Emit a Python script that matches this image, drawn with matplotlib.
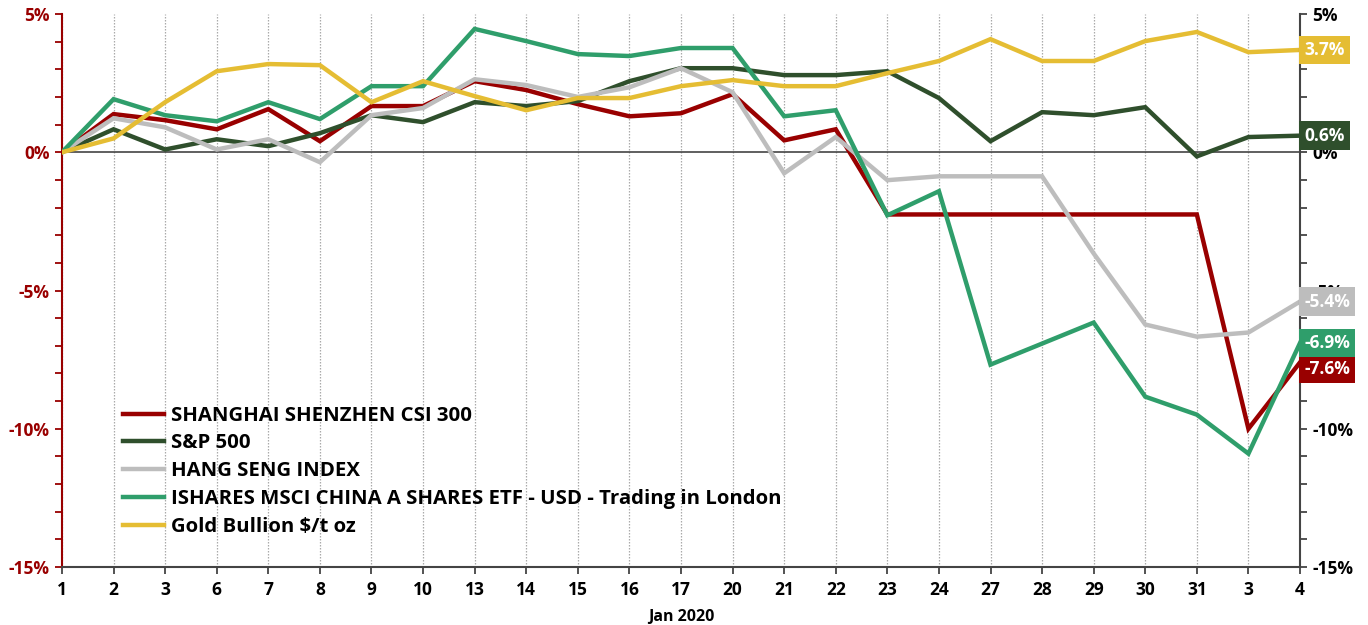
import matplotlib
matplotlib.use("Agg")
import matplotlib.pyplot as plt
from matplotlib.ticker import MultipleLocator, FuncFormatter

plt.rcParams['font.family'] = ['Open Sans', 'DejaVu Sans']
plt.rcParams['font.weight'] = 'bold'

# trading days, Jan 2020 -> 4 Feb
days = ['1', '2', '3', '6', '7', '8', '9', '10', '13', '14', '15', '16', '17',
        '20', '21', '22', '23', '24', '27', '28', '29', '30', '31', '3', '4']

csi300 = [0, 1.38, 1.16, 0.83, 1.56, 0.40, 1.67, 1.67, 2.57, 2.25, 1.74, 1.30, 1.41,
          2.10, 0.43, 0.83, -2.25, -2.25, -2.25, -2.25, -2.25, -2.25, -2.25, -10.0, -7.6]
sp500 = [0, 0.83, 0.10, 0.47, 0.22, 0.69, 1.34, 1.09, 1.81, 1.67, 1.85, 2.57, 3.04,
         3.04, 2.79, 2.79, 2.93, 1.96, 0.40, 1.45, 1.34, 1.63, -0.15, 0.55, 0.6]
hang_seng = [0, 1.23, 0.90, 0.10, 0.47, -0.36, 1.34, 1.60, 2.64, 2.43, 2.00, 2.35, 3.04,
             2.17, -0.76, 0.55, -1.01, -0.87, -0.87, -0.87, -3.66, -6.23, -6.67, -6.52, -5.4]
ishares = [0, 1.92, 1.34, 1.12, 1.81, 1.20, 2.39, 2.39, 4.46, 4.02, 3.55, 3.48, 3.77,
           3.77, 1.30, 1.52, -2.28, -1.41, -7.68, -6.92, -6.16, -8.84, -9.49, -10.9, -6.9]
gold = [0, 0.50, 1.81, 2.93, 3.19, 3.15, 1.81, 2.57, 2.03, 1.52, 1.96, 1.96, 2.39,
        2.61, 2.39, 2.39, 2.86, 3.30, 4.09, 3.30, 3.30, 4.02, 4.35, 3.62, 3.7]

names = ['SHANGHAI SHENZHEN CSI 300', 'S&P 500', 'HANG SENG INDEX',
         'ISHARES MSCI CHINA A SHARES ETF - USD - Trading in London', 'Gold Bullion $/t oz']
series = [csi300, sp500, hang_seng, ishares, gold]
colors = ['#990000', '#2f4f2c', '#bdbdbd', '#2f9e6b', '#e5bd33']
label_shift = [-0.23, 0, 0, 0, 0]

fig = plt.figure(figsize=(13.68, 6.25), dpi=100)
ax = fig.add_axes([0.0453, 0.0928, 0.9050, 0.8848])
x = list(range(len(days)))

for xi in x:
    ax.axvline(xi, color='#aaaaaa', lw=0.9, ls=(0, (1.2, 1.2)), zorder=0)
ax.axhline(0, color='#444444', lw=1.2, zorder=1)

lines = []
for s, c, n in zip(series, colors, names):
    ln, = ax.plot(x, s, color=c, lw=3.2, label=n, solid_joinstyle='miter', zorder=3)
    lines.append(ln)

ax.set_xlim(0, len(days) - 1)
ax.set_ylim(-15, 5)
ax.set_xticks(x)
ax.set_xticklabels(days, fontsize=12.5, fontweight='bold')
ax.yaxis.set_major_locator(MultipleLocator(5))
ax.yaxis.set_minor_locator(MultipleLocator(1))
pct = FuncFormatter(lambda v, p: '%d%%' % round(v))
ax.yaxis.set_major_formatter(pct)
ax.tick_params(axis='y', which='both', colors='#990000', length=5, width=1.3)
ax.tick_params(axis='y', labelsize=12.5, pad=4)
ax.tick_params(axis='x', length=5, width=1.3, color='#444444', pad=5)
for lab in ax.get_yticklabels():
    lab.set_fontweight('bold')
ax.spines['left'].set_color('#990000')
ax.spines['left'].set_linewidth(1.5)
ax.spines['bottom'].set_color('#444444')
ax.spines['bottom'].set_linewidth(1.5)
ax.spines['top'].set_visible(False)
ax.spines['right'].set_visible(False)
ax.set_xlabel('Jan 2020', fontsize=11.5, fontweight='bold', labelpad=7)

ax2 = ax.twinx()
ax2.set_ylim(-15, 5)
ax2.yaxis.set_major_locator(MultipleLocator(5))
ax2.yaxis.set_minor_locator(MultipleLocator(1))
ax2.yaxis.set_major_formatter(pct)
ax2.tick_params(axis='y', which='both', colors='#444444', length=5, width=1.3)
ax2.tick_params(axis='y', labelsize=12.5, labelcolor='black', pad=4)
for lab in ax2.get_yticklabels():
    lab.set_fontweight('bold')
for sp in ['left', 'top', 'bottom']:
    ax2.spines[sp].set_visible(False)
ax2.spines['right'].set_color('#444444')
ax2.spines['right'].set_linewidth(1.5)

# end value boxes
for s, c, dy in zip(series, colors, label_shift):
    ax2.annotate('%.1f%%' % s[-1], xy=(1.0, s[-1] + dy), xycoords=('axes fraction', 'data'),
                 xytext=(3, 0), textcoords='offset points', ha='left', va='center',
                 color='white', fontsize=12.5, fontweight='bold', zorder=10,
                 bbox=dict(boxstyle='square,pad=0.3', fc=c, ec='none'))

leg = ax.legend(handles=lines, loc='lower left', bbox_to_anchor=(0.043, 0.04),
                frameon=False, fontsize=14.7, handlelength=2.0, handletextpad=0.35,
                labelspacing=0.38, borderaxespad=0)

fig.savefig('out.png', dpi=100)
